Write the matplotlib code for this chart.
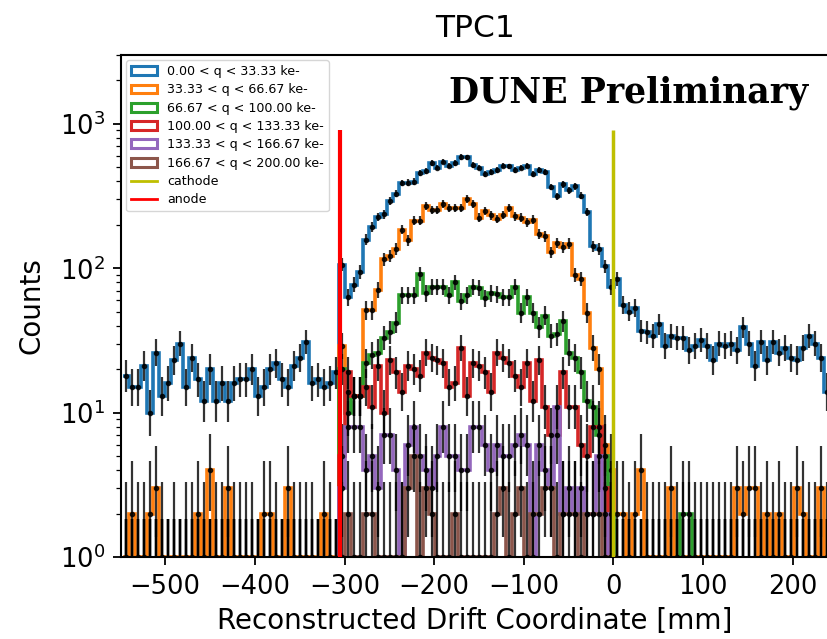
import math
import numpy as np
import matplotlib
matplotlib.use("Agg")
import matplotlib.pyplot as plt
from matplotlib.patches import Patch
from matplotlib.lines import Line2D

# ---------------- data ----------------
bin_start = -547.0
bin_width = 6.68
n_bins = 118

labels = ["0.00 < q < 33.33 ke-", "33.33 < q < 66.67 ke-", "66.67 < q < 100.00 ke-",
          "100.00 < q < 133.33 ke-", "133.33 < q < 166.67 ke-", "166.67 < q < 200.00 ke-"]
colors = ["#1f77b4", "#ff7f0e", "#2ca02c", "#d62728", "#9467bd", "#8c564b"]

blue = [18,15,15,21,10,26,13,16,23,30,15,24,17,12,20,12,16,12,16,17,17,20,13,15,20,22,17,15,21,24,31,16,17,15,16,19,
        106,63,77,94,158,193,227,236,292,329,389,392,398,457,472,536,498,547,514,536,589,585,520,
        498,447,467,482,514,508,482,498,514,447,482,462,365,315,381,347,369,318,244,142,136,103,74,84,56,
        50,53,37,36,34,41,29,34,33,33,27,29,32,29,23,30,29,30,27,39,30,21,31,23,31,26,28,24,23,28,34,30,24,14]

orange = [1,2,1,1,2,3,1,0,1,0,1,1,2,1,4,1,1,3,1,1,1,1,0,2,2,1,0,3,1,1,1,1,0,2,1,0,
          29,14,13,13,51,51,71,115,122,136,185,156,213,213,271,252,252,277,263,263,263,302,277,224,249,232,219,234,263,229,
          224,208,217,172,166,129,150,140,148,90,84,49,28,20,6,4,
          2,2,1,2,4,1,1,1,1,3,1,1,1,1,1,1,1,1,1,1,3,2,3,3,1,2,1,2,1,1,3,2,1,1,3,1]

green_core = [20,10,13,13,22,25,26,33,36,42,65,65,65,91,67,74,74,74,65,80,59,65,74,73,62,67,66,63,63,74,
              49,63,49,39,47,34,35,43,26,24,19,12,11,7,5,2]
red_core = [5,19,13,13,15,11,21,10,23,19,14,21,20,18,26,24,23,22,15,16,28,13,22,21,19,14,26,24,22,18,
            15,22,12,23,11,7,7,19,11,11,6,5,8,8,3,1]
purple_core = [3,8,8,8,4,5,3,7,7,4,1,6,8,5,4,3,5,8,5,5,4,4,8,8,6,4,6,5,5,6,
               7,6,1,6,4,3,11,2,3,2,3,2,2,5,2,1]
brown_core = [1,2,1,1,2,2,1,1,1,1,1,3,5,1,3,2,1,1,1,2,1,1,1,1,1,1,2,3,1,2,
              3,1,2,2,3,3,1,2,2,2,1,2,2,2,1,1]
core_first_bin = 36
green_extra = {93: 2, 94: 2}

anode_x = -305.0
cathode_x = 0.0
line_top = 900.0

# ---------------- helpers ----------------
edges = bin_start + bin_width * np.arange(n_bins + 1)
centers = 0.5 * (edges[:-1] + edges[1:])


def embed(core, extra=None):
    arr = np.zeros(n_bins)
    arr[core_first_bin:core_first_bin + len(core)] = core
    if extra:
        for k, v in extra.items():
            arr[k] = v
    return arr


series = [np.array(blue, float), np.array(orange, float), embed(green_core, green_extra),
          embed(red_core), embed(purple_core), embed(brown_core)]


def pois_cdf(n, mu):
    if mu <= 0:
        return 1.0
    lm = math.log(mu)
    terms = [-mu + i * lm - math.lgamma(i + 1) for i in range(int(n) + 1)]
    m = max(terms)
    return math.exp(m) * sum(math.exp(t - m) for t in terms)


def bisect(f, lo, hi):
    # f(lo) > 0 > f(hi)
    for _ in range(80):
        mid = 0.5 * (lo + hi)
        if f(mid) > 0:
            lo = mid
        else:
            hi = mid
    return 0.5 * (lo + hi)


def garwood(n, a=0.158655):
    hi_lim = n + 10 * math.sqrt(n + 1) + 10
    up = bisect(lambda mu: pois_cdf(n, mu) - a, 0.0, hi_lim)
    if n == 0:
        low = 0.0
    else:
        low = bisect(lambda mu: a - (1 - pois_cdf(n - 1, mu)), 0.0, hi_lim)
    return low, up


# ---------------- plot ----------------
W, H = 827, 639
fig = plt.figure(figsize=(W / 100, H / 100), dpi=100)
ax = fig.add_axes([121.3 / W, 82 / H, (829 - 121.3) / W, (557 - 55) / H])

for vals, c, lab in zip(series, colors, labels):
    ax.stairs(vals, edges, color=c, lw=2.6, baseline=None)

for vals in series:
    lo_err, hi_err = [], []
    for v in vals:
        l, u = garwood(int(v))
        lo_err.append(v - l)
        hi_err.append(u - v)
    ax.errorbar(centers, vals, yerr=[lo_err, hi_err], fmt='.', color='k',
                ms=6, elinewidth=1.6, alpha=0.8, zorder=3)

ax.vlines(cathode_x, 0.5, line_top, color='y', lw=2.5, zorder=4)
ax.vlines(anode_x, 0.5, line_top, color='r', lw=3, zorder=4)

ax.set_yscale('log')
ax.set_ylim(1, 3000)
ax.set_xlim(-549, 240.4)
ax.set_xticks([-500, -400, -300, -200, -100, 0, 100, 200])
ax.tick_params(axis='both', which='major', labelsize=18.5, length=6, width=1.3, pad=6)
ax.tick_params(axis='y', which='minor', length=3.5, width=0.9)
ax.spines['right'].set_visible(False)
for s in ['left', 'bottom', 'top']:
    ax.spines[s].set_linewidth(1.5)

ax.set_xlabel('Reconstructed Drift Coordinate [mm]', fontsize=20, labelpad=5)
ax.set_ylabel('Counts', fontsize=20, labelpad=10)
ax.set_title('TPC1', fontsize=22.5, pad=13)

handles = [Patch(facecolor='none', edgecolor=c, lw=2.2) for c in colors]
handles += [Line2D([], [], color='y', lw=2), Line2D([], [], color='r', lw=2)]
ax.legend(handles, labels + ['cathode', 'anode'], loc='upper left', fontsize=9.1,
          labelspacing=0.42, frameon=True, borderaxespad=0.4)
ax.text(0.97, 0.96, 'DUNE Preliminary', transform=ax.transAxes, ha='right', va='top',
        fontsize=25, fontweight='bold', family='DejaVu Serif')

fig.savefig('out.png', dpi=100)
